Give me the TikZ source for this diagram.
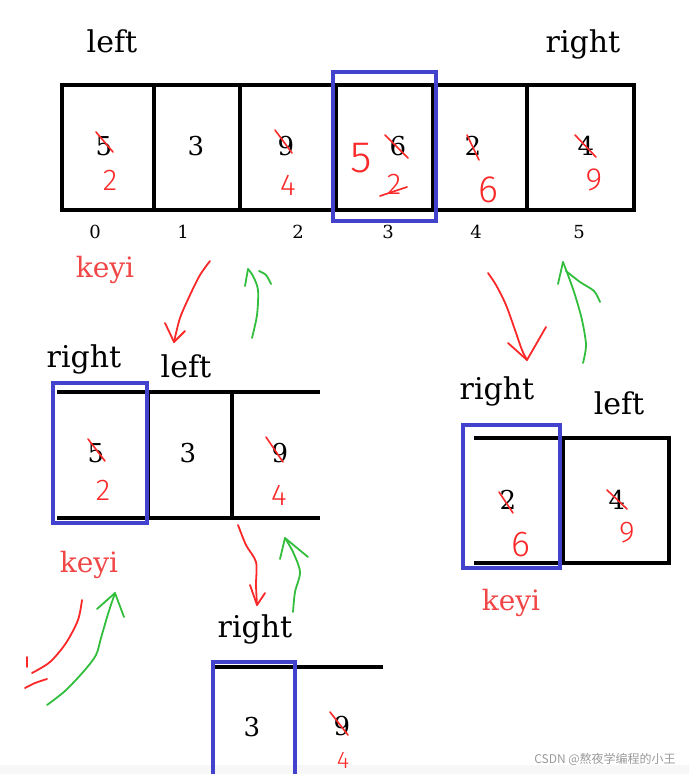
\documentclass[tikz,border=0pt]{standalone}
\usepackage{fontspec}
\setmainfont{DejaVu Serif}
\newfontfamily\hand{Fira Sans Light}
\newfontfamily\cjk{Noto Sans CJK SC}
\definecolor{myblue}{RGB}{66,66,204}
\definecolor{myred}{RGB}{250,40,40}
\definecolor{mygreen}{RGB}{50,190,60}
\definecolor{keyred}{RGB}{240,70,70}
\begin{document}
\begin{tikzpicture}[x=1pt,y=-1pt,
  cellbox/.style={draw=black,line width=3.5pt,inner sep=0pt,minimum height=125pt},
  bluebox/.style={draw=myblue,line width=3.5pt},
  blk/.style={draw=black,line width=3.5pt},
  lbl/.style={font=\fontsize{30}{30}\selectfont,inner sep=0pt,anchor=base},
  num/.style={font=\fontsize{26}{28}\selectfont,inner sep=0pt},
  idx/.style={font=\fontsize{18}{20}\selectfont,inner sep=0pt},
  hd/.style={text=myred,font=\hand\fontsize{30}{30}\selectfont,inner sep=0pt},
  keyl/.style={text=keyred,font=\fontsize{28}{30}\selectfont,inner sep=0pt,anchor=base},
  strike/.style={draw=myred,line width=1.6pt,line cap=round},
  redpen/.style={draw=myred,line width=1.8pt,line cap=round,line join=round},
  greenpen/.style={draw=mygreen,line width=1.8pt,line cap=round,line join=round}]
\useasboundingbox (0,0) rectangle (689,774);
\fill[black!3] (0,765) rectangle (689,774);

% ---------- top array ----------
\node[lbl] (tleft) at (112,52) {left};
\node[lbl] (tright) at (583,52) {right};
\node[cellbox,minimum width=92pt] (t0) at (108,147.5) {};
\node[cellbox,minimum width=86pt] (t1) at (197,147.5) {};
\node[cellbox,minimum width=96pt] (t2) at (288,147.5) {};
\node[cellbox,minimum width=97pt] (t3) at (384.5,147.5) {};
\node[cellbox,minimum width=94pt] (t4) at (480,147.5) {};
\node[cellbox,minimum width=107pt] (t5) at (580.5,147.5) {};
\coordinate (tb1) at (333,72); \coordinate (tb2) at (436,221);
\draw[bluebox] (tb1) rectangle (tb2);
\node[num] (n0) at (104,146) {5};
\node[num] (n1) at (196,146) {3};
\node[num] (n2) at (286,146) {9};
\node[num] (n3) at (398,146) {6};
\node[num] (n4) at (473,146) {2};
\node[num] (n5) at (586,146) {4};
\draw[strike] (96,132) -- (113,152);
\draw[strike] (275,130) -- (292,153);
\draw[strike] (385,135) -- (408,158);
\draw[strike] (467,135) -- (479,160);
\draw[strike] (575,135) -- (596,157);
\node[hd] (r0) at (110,180) {2};
\node[hd] (r2) at (288,185) {4};
\node[hd,font=\hand\fontsize{44}{44}\selectfont] (r3a) at (361,158) {5};
\node[hd] (r3b) at (394,184) {2};
\draw[strike] (380,196) -- (407,187);
\node[hd,font=\hand\fontsize{38}{38}\selectfont] (r4) at (488,190) {6};
\node[hd,font=\hand\fontsize{32}{32}\selectfont] (r5) at (594,180) {9};
\node[idx] (i0) at (95,232) {0};
\node[idx] (i1) at (183,232) {1};
\node[idx] (i2) at (298,232) {2};
\node[idx] (i3) at (388,232) {3};
\node[idx] (i4) at (476,232) {4};
\node[idx] (i5) at (579,232) {5};
\node[keyl] (k1) at (105,277) {keyi};

% ---------- hand arrows top ----------
\draw[redpen] plot[smooth] coordinates {(210,261) (200,275) (190,295) (180,318) (174,342)};
\draw[redpen] (165,323) -- (174,342) -- (185,331);
\draw[greenpen] plot[smooth] coordinates {(252,338) (257,315) (258,290) (253,276) (248,269)};
\draw[greenpen] (245,286) -- (248,269);
\draw[greenpen] plot[smooth] coordinates {(259,271) (266,275) (271,284)};
\draw[redpen] plot[smooth] coordinates {(488,273) (496,285) (506,305) (515,330) (522,350) (527,360)};
\draw[redpen] (508,343) -- (527,360) -- (546,327);
\draw[greenpen] plot[smooth] coordinates {(583,363) (586,345) (582,320) (575,295) (568,275) (563,262)};
\draw[greenpen] (558,284) -- (563,262);
\draw[greenpen] plot[smooth] coordinates {(566,271) (580,282) (594,291) (600,302)};

% ---------- left second array ----------
\node[lbl] (lright) at (84,367) {right};
\node[lbl] (lleft) at (186,377) {left};
\coordinate (la) at (57,392); \coordinate (lb) at (320,392);
\coordinate (lc) at (57,518); \coordinate (ld) at (320,518);
\draw[blk] (la) -- (lb);
\draw[blk] (lc) -- (ld);
\draw[blk] (148,392) -- (148,518);
\draw[blk] (232,392) -- (232,518);
\draw[bluebox] (53,383) rectangle (147,523);
\node[num] (m0) at (96,453) {5};
\node[num] (m1) at (188,453) {3};
\node[num] (m2) at (280,453) {9};
\draw[strike] (88,439) -- (105,461);
\draw[strike] (266,437) -- (283,462);
\node[hd] (mr0) at (103,490) {2};
\node[hd] (mr2) at (279,495) {4};
\node[keyl] (k2) at (89,572) {keyi};

\draw[redpen] plot[smooth] coordinates {(238,525) (246,545) (256,562) (256,585) (257,605)};
\draw[redpen] (250,585) -- (257,605) -- (265,593);
\draw[greenpen] plot[smooth] coordinates {(293,612) (295,592) (300,572) (293,552) (285,538)};
\draw[greenpen] (280,559) -- (285,538) -- (308,557);

\draw[redpen] plot[smooth] coordinates {(82,600) (78,620) (66,643) (50,662) (32,673)};
\draw[redpen] (27,657) -- (27,667);
\draw[redpen] plot[smooth] coordinates {(25,688) (35,683) (47,679)};
\draw[greenpen] plot[smooth] coordinates {(47,705) (65,691) (84,671) (96,655) (101,638) (108,614) (115,593)};
\draw[greenpen] (97,609) -- (115,593) -- (124,617);

% ---------- right second array ----------
\node[lbl] (rright) at (497,399) {right};
\node[lbl] (rleft) at (619,414) {left};
\coordinate (ra) at (474,438); \coordinate (rb) at (669,438);
\coordinate (rc) at (474,563); \coordinate (rd) at (669,563);
\draw[blk] (ra) -- (rb) -- (rd) -- (rc);
\draw[blk] (563,438) -- (563,563);
\draw[bluebox] (463,425) rectangle (560,568);
\node[num] (q0) at (508,500) {2};
\node[num] (q1) at (617,500) {4};
\draw[strike] (499,492) -- (513,513);
\draw[strike] (607,490) -- (627,509);
\node[hd,font=\hand\fontsize{36}{36}\selectfont] (qr0) at (521,545) {6};
\node[hd] (qr1) at (627,533) {9};
\node[keyl] (k3) at (511,610) {keyi};

% ---------- bottom array ----------
\node[lbl] (bright) at (255,637) {right};
\coordinate (ba) at (215,667); \coordinate (bb) at (383,667);
\draw[blk] (ba) -- (bb);
\draw[bluebox] (295,790) -- (295,662) -- (213,662) -- (213,790);
\node[num] (p0) at (252,727) {3};
\node[num] (p1) at (342,726) {9};
\draw[strike] (330,712) -- (348,735);
\node[hd,font=\hand\fontsize{24}{24}\selectfont] (pr1) at (343,760) {4};

\node[font=\cjk\fontsize{12}{12}\selectfont,text=black!40,inner sep=0pt] (wm) at (605,759) {CSDN @熬夜学编程的小王};
\end{tikzpicture}
\end{document}
